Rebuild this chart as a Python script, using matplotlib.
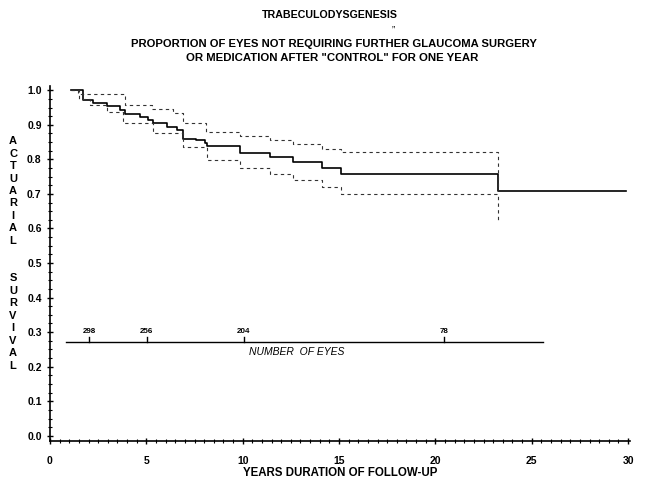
import matplotlib
matplotlib.use("Agg")
from matplotlib import pyplot as plt
from matplotlib.ticker import MultipleLocator

plt.rcParams['font.family'] = ['Liberation Sans', 'DejaVu Sans']

# Actuarial survival estimate (step changes)
surv_years = [1.1, 1.73, 2.25, 2.94, 3.63, 3.89, 4.67, 5.1, 5.36, 6.05, 6.57,
              6.92, 7.6, 8.04, 8.13, 9.86, 11.4, 12.6, 14.1, 15.1, 23.27, 29.9]
surv_vals = [1.0, 0.971, 0.962, 0.954, 0.944, 0.930, 0.923, 0.915, 0.904, 0.894,
             0.884, 0.860, 0.855, 0.846, 0.839, 0.819, 0.807, 0.791, 0.775,
             0.759, 0.708, 0.708]

# Upper confidence band
upper_years = [1.1, 1.47, 3.9, 5.3, 6.4, 6.92, 8.1, 9.86, 11.4, 12.6, 14.1,
               15.1, 23.27, 23.27]
upper_vals = [1.0, 0.990, 0.958, 0.947, 0.933, 0.904, 0.880, 0.867, 0.857,
              0.845, 0.831, 0.820, 0.820, 0.708]

# Lower confidence band
lower_years = [1.1, 1.5, 2.07, 2.94, 3.8, 5.36, 6.92, 8.13, 9.86, 11.4, 12.6,
               14.1, 15.1, 23.27, 23.27]
lower_vals = [1.0, 0.975, 0.957, 0.937, 0.904, 0.875, 0.836, 0.798, 0.774,
              0.759, 0.740, 0.721, 0.701, 0.701, 0.619]

# Number of eyes at risk
eyes_years = [2.05, 5.02, 10.05, 20.45]
eyes_counts = ["298", "256", "204", "78"]
eyes_line_x = [0.83, 25.6]
eyes_line_y = 0.27

fig = plt.figure(figsize=(6.5, 4.92), dpi=100)
ax = fig.add_axes([0.0769, 0.1037, 0.8923, 0.7213])

ax.step(surv_years, surv_vals, where='post', color='black', lw=1.2)
ax.step(upper_years, upper_vals, where='post', color='#333333', lw=0.8,
        dashes=(3, 3))
ax.step(lower_years, lower_vals, where='post', color='#333333', lw=0.8,
        dashes=(3, 3))

# at-risk line
ax.plot(eyes_line_x, [eyes_line_y, eyes_line_y], color='black', lw=1.0)
for yr, n in zip(eyes_years, eyes_counts):
    ax.plot([yr, yr], [eyes_line_y, eyes_line_y + 0.017], color='black', lw=1.0)
    ax.text(yr, eyes_line_y + 0.022, n, ha='center', va='bottom',
            fontsize=5.8, fontweight='bold')
ax.text(12.8, eyes_line_y - 0.012, "NUMBER  OF EYES", ha='center', va='top',
        fontsize=7.5, style='italic')

ax.set_xlim(0, 30.1)
ax.set_ylim(-0.015, 1.012)
ax.xaxis.set_major_locator(MultipleLocator(5))
ax.xaxis.set_minor_locator(MultipleLocator(0.5))
ax.yaxis.set_major_locator(MultipleLocator(0.1))
ax.yaxis.set_minor_locator(MultipleLocator(0.025))
ax.xaxis.set_major_formatter(plt.FuncFormatter(lambda v, p: "%d" % v))
ax.yaxis.set_major_formatter(plt.FuncFormatter(lambda v, p: "%.1f" % v))
ax.tick_params(which='major', direction='inout', length=5, width=1.0,
               labelsize=7.5)
ax.tick_params(which='minor', direction='inout', length=3, width=0.8)
ax.tick_params(axis='x', pad=8)
for lab in ax.get_xticklabels() + ax.get_yticklabels():
    lab.set_fontweight('bold')
ax.spines['top'].set_visible(False)
ax.spines['right'].set_visible(False)
ax.spines['left'].set_linewidth(1.2)
ax.spines['bottom'].set_linewidth(1.2)

ax.set_xlabel("YEARS DURATION OF FOLLOW-UP", fontsize=8.3, fontweight='bold',
              labelpad=1)

fig.text(0.0200, 0.485, "\n".join("ACTUARIAL") + "\n\n\n" + "\n".join("SURVIVAL"),
         ha='center', va='center', fontsize=8, fontweight='bold',
         linespacing=1.31)

fig.text(0.508, 0.9705, "TRABECULODYSGENESIS", ha='center', va='center',
         fontsize=7.7, fontweight='bold')
fig.text(0.605, 0.937, "\u201d", ha='center', va='center', fontsize=7)
fig.text(0.514, 0.911, "PROPORTION OF EYES NOT REQUIRING FURTHER GLAUCOMA SURGERY",
         ha='center', va='center', fontsize=8.1, fontweight='bold')
fig.text(0.511, 0.882, "OR MEDICATION AFTER \"CONTROL\" FOR ONE YEAR",
         ha='center', va='center', fontsize=8.2, fontweight='bold')

fig.savefig("out.png", dpi=100)
